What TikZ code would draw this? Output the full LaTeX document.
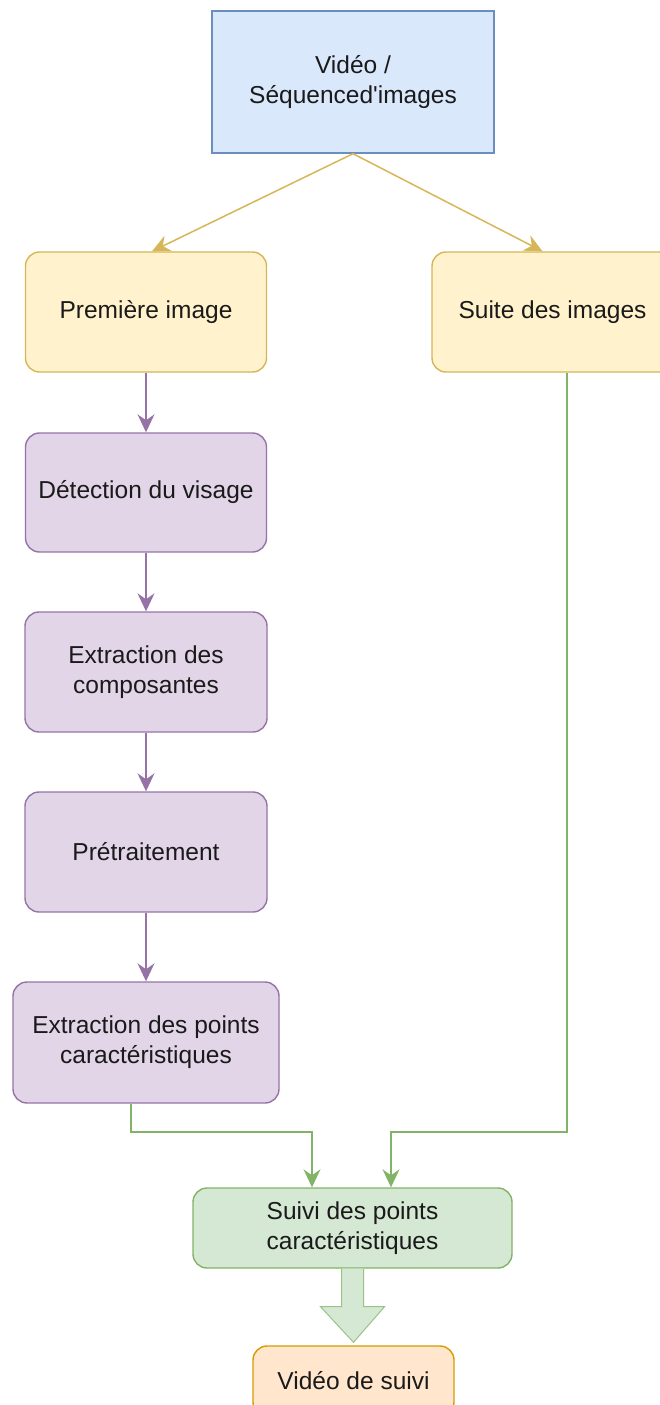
\documentclass[tikz,border=0pt]{standalone}
\usepackage{fontspec}
\newfontfamily\diafont{Liberation Sans}
\usetikzlibrary{arrows.meta,calc}

% box palette
\definecolor{blueF}{HTML}{DAE8FC}\definecolor{blueD}{HTML}{6C8EBF}
\definecolor{yelF}{HTML}{FFF2CC}\definecolor{yelD}{HTML}{D6B656}
\definecolor{purF}{HTML}{E1D5E7}\definecolor{purD}{HTML}{9673A6}
\definecolor{grnF}{HTML}{D5E8D4}\definecolor{grnD}{HTML}{82B366}
\definecolor{orF}{HTML}{FFE6CC}\definecolor{orD}{HTML}{D79B00}
\definecolor{txt}{HTML}{1A1A1A}

\begin{document}
\begin{tikzpicture}[x=1pt,y=-1pt,
  box/.style={draw, line width=1.4pt, align=center, inner sep=0pt,
    font={\diafont\fontsize{24.5}{30}\selectfont}, text=txt},
  rbox/.style={box, rounded corners=14pt},
  bluebox/.style={box, fill=blueF, draw=blueD},
  yelbox/.style={rbox, fill=yelF, draw=yelD},
  purbox/.style={rbox, fill=purF, draw=purD},
  grnbox/.style={rbox, fill=grnF, draw=grnD},
  orbox/.style={rbox, fill=orF, draw=orD},
  tip/.style={-{Stealth[length=18pt,width=17pt,inset=6pt]}},
  yelarr/.style={tip, draw=yelD, line width=1.5pt},
  purarr/.style={tip, draw=purD, line width=1.5pt},
  grnarr/.style={tip, draw=grnD, line width=1.5pt},
  bigarr/.style={fill=grnF, draw=grnD!80, line width=1pt, line join=miter}
]
\useasboundingbox (0,0) rectangle (660,1405);

% boxes
\node[bluebox, minimum width=282pt, minimum height=142pt] (src) at (353,82)
  {Vidéo /\\Séquenced'images};
\node[yelbox, minimum width=241pt, minimum height=120pt] (first) at (146,312)
  {Première image};
\node[yelbox, minimum width=241pt, minimum height=120pt] (suite) at (552.5,312)
  {Suite des images};
\node[purbox, minimum width=241pt, minimum height=119pt] (detect) at (146,492.5)
  {Détection du visage};
\node[purbox, minimum width=242pt, minimum height=120pt] (comp) at (146,672)
  {Extraction des\\composantes};
\node[purbox, minimum width=242pt, minimum height=120pt] (pre) at (146,852)
  {Prétraitement};
\node[purbox, minimum width=266pt, minimum height=121pt] (ext) at (146,1042.5)
  {Extraction des points\\caractéristiques};
\node[grnbox, minimum width=319pt, minimum height=80pt] (track) at (352.5,1228)
  {Suivi des points\\caractéristiques};
\node[orbox, minimum width=201pt, minimum height=70pt] (out) at (353.5,1381)
  {Vidéo de suivi};

% split of the input sequence
\draw[yelarr] (src.south) -- ([xshift=6pt]first.north);
\draw[yelarr] (src.south) -- ([xshift=-10pt]suite.north);

% processing chain on the first frame
\draw[purarr] (first) -- (detect);
\draw[purarr] (detect) -- (comp);
\draw[purarr] (comp) -- (pre);
\draw[purarr] (pre) -- (ext);

% merge into tracking
\coordinate (e1) at (131,1132);
\coordinate (j1) at (312,1132);
\coordinate (e2) at (567,1132);
\coordinate (j2) at (391,1132);
\draw[grnarr] (ext.south -| e1) |- (j1) -- (j1 |- track.north);
\draw[grnarr] (suite.south -| e2) |- (j2) -- (j2 |- track.north);

% block arrow to the output
\draw[bigarr] ($(track.south)+(-11,0)$) -- ($(track.south)+(-11,38)$)
  -- ($(track.south)+(-32,38)$) -- ($(out.north)+(0,-3)$)
  -- ($(track.south)+(32,38)$) -- ($(track.south)+(11,38)$)
  -- ($(track.south)+(11,0)$);
\end{tikzpicture}
\end{document}
